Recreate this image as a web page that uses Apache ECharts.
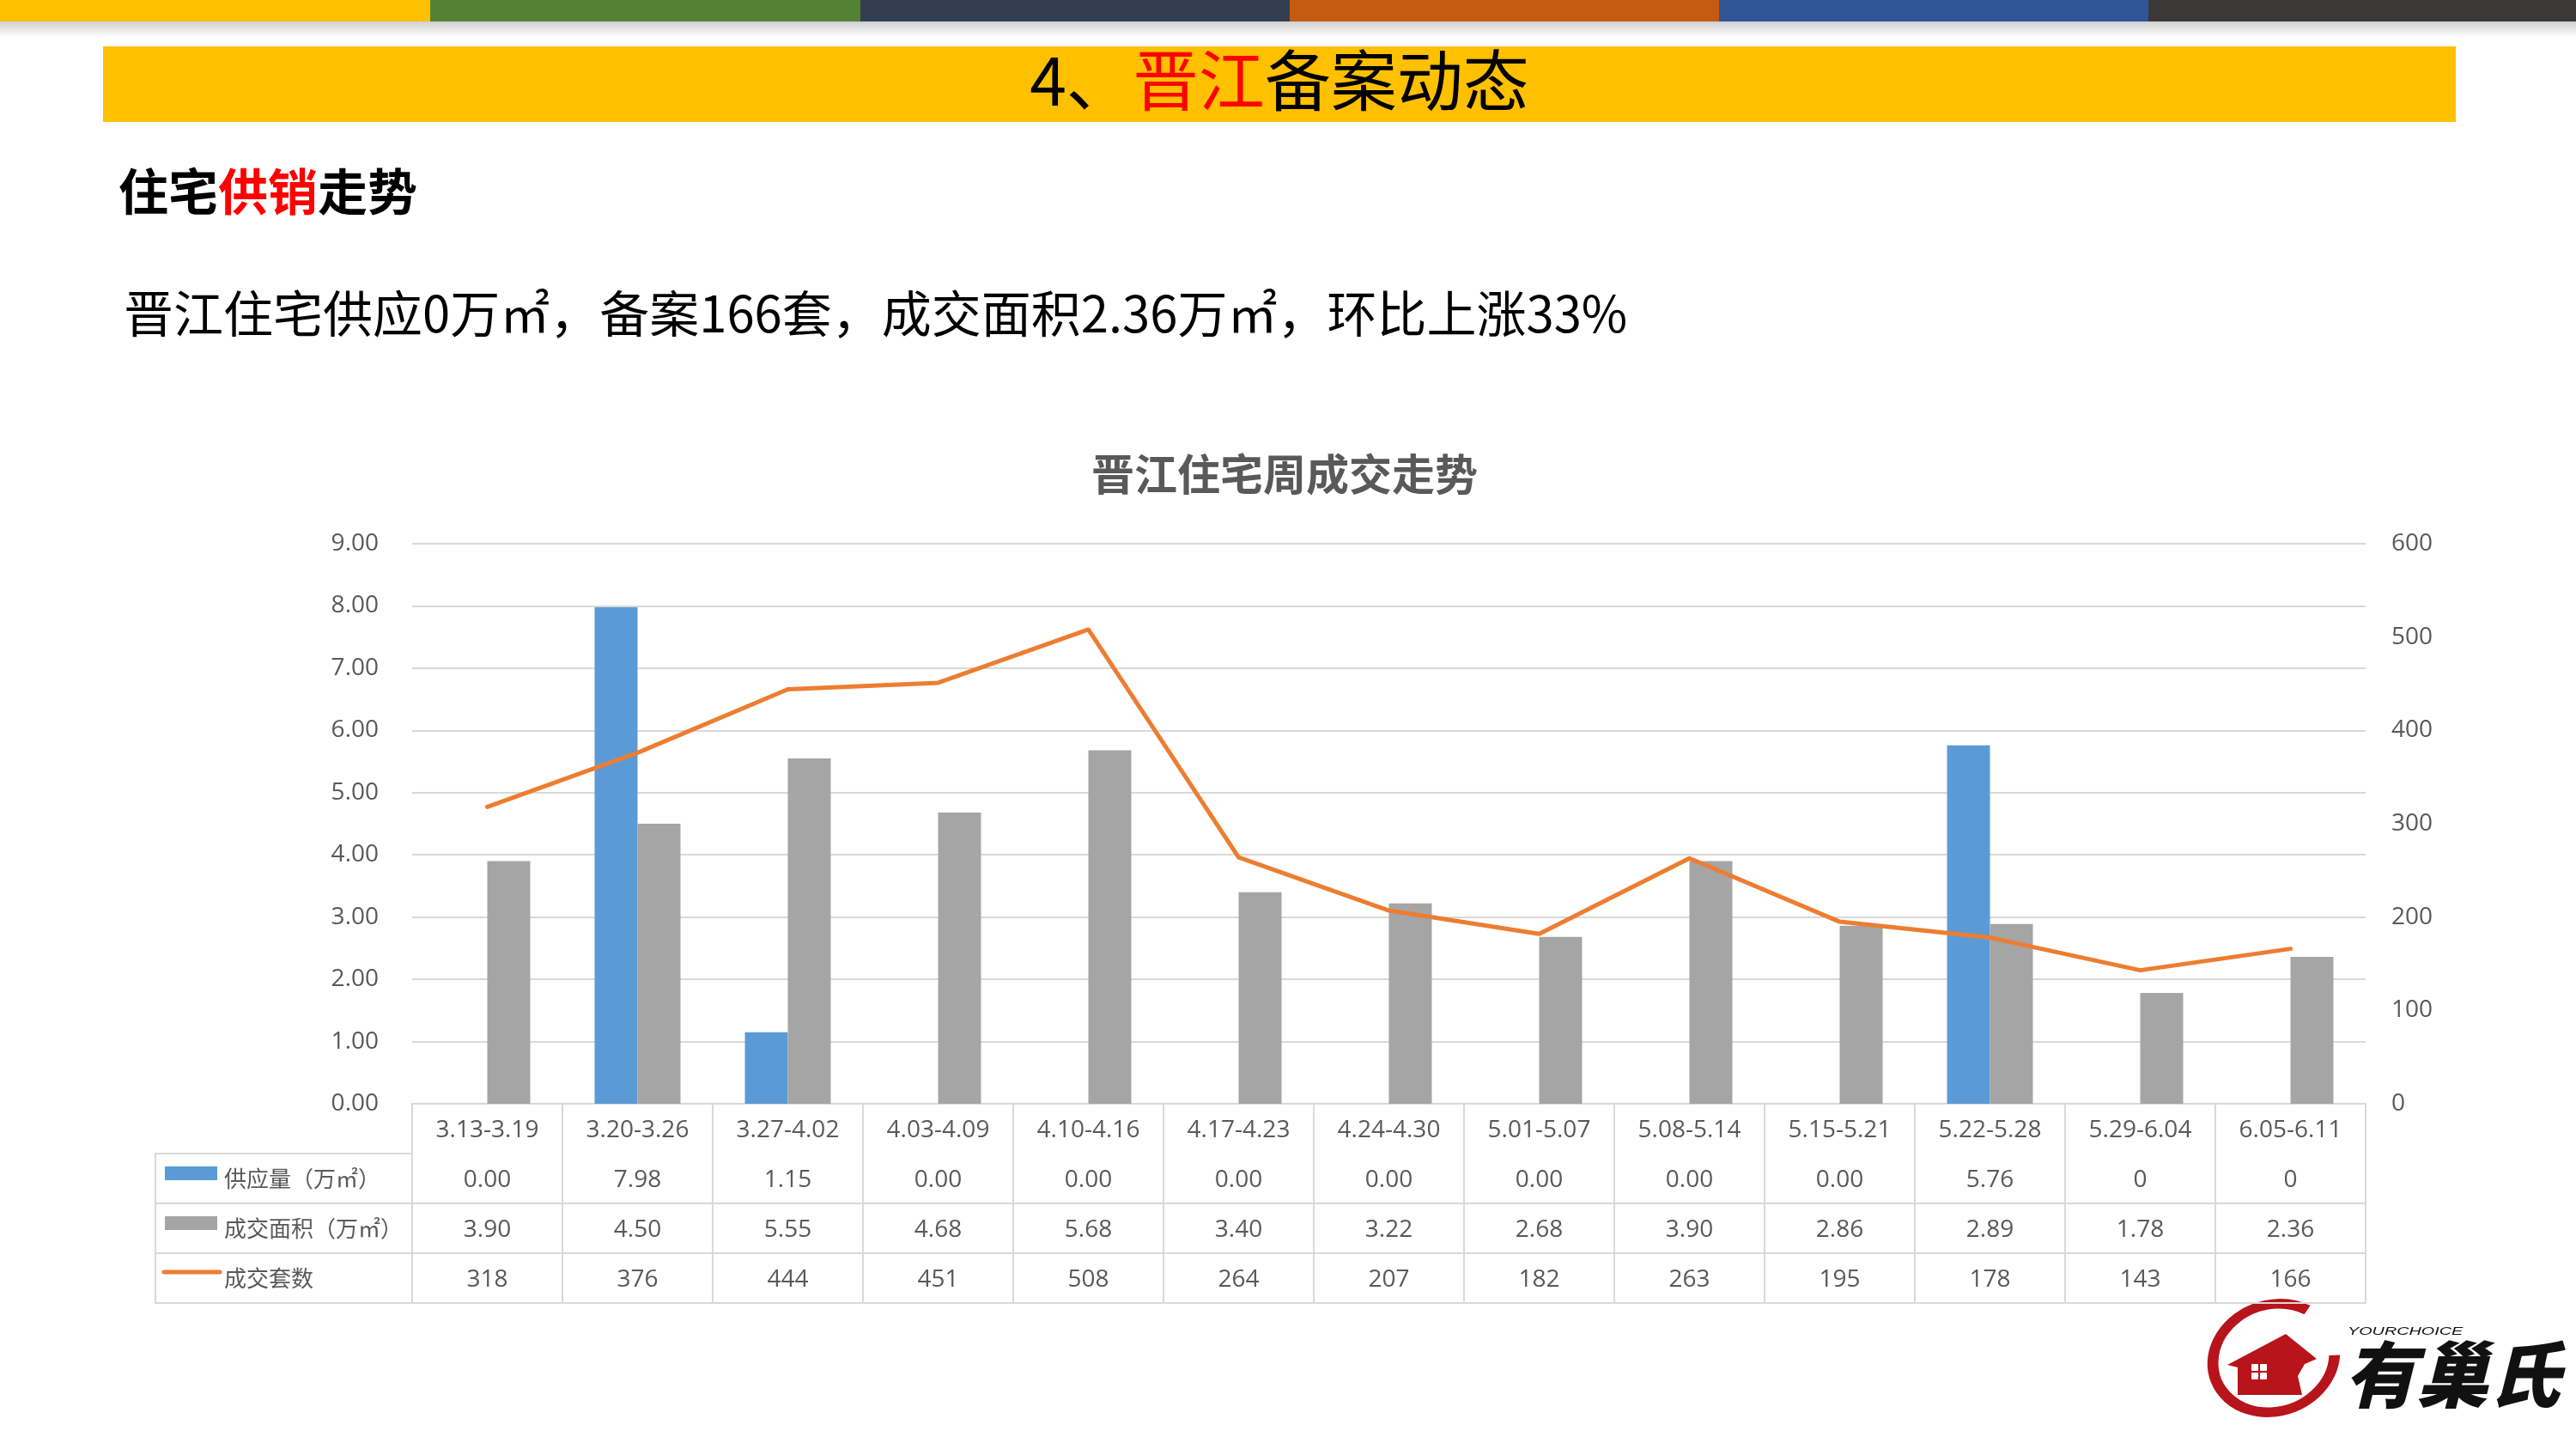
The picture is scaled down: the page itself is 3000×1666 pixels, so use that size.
<!DOCTYPE html>
<html>
<head>
<meta charset="utf-8">
<title>晋江备案动态</title>
<script src="https://cdn.jsdelivr.net/npm/echarts@6/dist/echarts.min.js"></script>
<style>
  html, body { margin: 0; padding: 0; background: #fff; }
  body { width: 3000px; height: 1666px; position: relative; overflow: hidden; font-family: "Noto Sans CJK SC", sans-serif; }
  .strip { position: absolute; top: 0; height: 25px; }
  .shade { position: absolute; top: 25px; left: 0; width: 3000px; height: 18px; background: linear-gradient(#cfcfcf, #ffffff); }
  .banner { position: absolute; left: 120px; top: 54px; width: 2740px; height: 88px; background: #FFC000;
            text-align: center; font-size: 77px; line-height: 72px; color: #000; }
  .red { color: #FF0000; }
  .sub { position: absolute; left: 138px; top: 186px; font-size: 58px; font-weight: bold; line-height: 68px; color: #000; }
  .lead { position: absolute; left: 144px; top: 328px; font-size: 58px; line-height: 68px; color: #000; white-space: nowrap; }
  #chart { position: absolute; left: 0; top: 0; width: 3000px; height: 1666px; }
</style>
</head>
<body>
<div class="strip" style="left:0;width:501px;background:#FFC000"></div>
<div class="strip" style="left:501px;width:501px;background:#548235"></div>
<div class="strip" style="left:1002px;width:500px;background:#333F50"></div>
<div class="strip" style="left:1502px;width:500px;background:#C55A11"></div>
<div class="strip" style="left:2002px;width:500px;background:#2F5597"></div>
<div class="strip" style="left:2502px;width:498px;background:#3B3838"></div>
<div class="shade"></div>
<div class="banner">4、<span class="red">晋江</span>备案动态</div>
<div class="sub">住宅<span class="red">供销</span>走势</div>
<div class="lead">晋江住宅供应0万㎡，备案166套，成交面积2.36万㎡，环比上涨33%</div>
<div id="chart"></div>
<script>
// weekly categories
var weeks = ['3.13-3.19', '3.20-3.26', '3.27-4.02', '4.03-4.09', '4.10-4.16', '4.17-4.23', '4.24-4.30',
  '5.01-5.07', '5.08-5.14', '5.15-5.21', '5.22-5.28', '5.29-6.04', '6.05-6.11'];
// values as printed in the data table
var supplyRow = ['0.00', '7.98', '1.15', '0.00', '0.00', '0.00', '0.00', '0.00', '0.00', '0.00', '5.76', '0', '0'];
var areaRow = ['3.90', '4.50', '5.55', '4.68', '5.68', '3.40', '3.22', '2.68', '3.90', '2.86', '2.89', '1.78', '2.36'];
var unitsRow = ['318', '376', '444', '451', '508', '264', '207', '182', '263', '195', '178', '143', '166'];
var seriesNames = ['供应量（万㎡）', '成交面积（万㎡）', '成交套数'];
var seriesColors = ['#5B9BD5', '#A5A5A5', '#ED7D31'];

var tableTop = 1285, rowH = 58, colLeft = 181, plotLeft = 480;
var gridCol = '#D9D9D9', textCol = '#595959';
var cjk = '"Noto Sans CJK SC", sans-serif';
var numFont = '"Open Sans", "Noto Sans CJK SC", sans-serif';

var chart = echarts.init(document.getElementById('chart'));

var graphics = [];
// left column of the data table
graphics.push({
  type: 'rect', silent: true,
  shape: { x: colLeft, y: tableTop + rowH, width: plotLeft - colLeft, height: rowH * 3 },
  style: { fill: 'none', stroke: gridCol, lineWidth: 2 }
});
[2, 3].forEach(function (k) {
  graphics.push({
    type: 'line', silent: true,
    shape: { x1: colLeft, y1: tableTop + rowH * k, x2: plotLeft, y2: tableTop + rowH * k },
    style: { stroke: gridCol, lineWidth: 2 }
  });
});
seriesNames.forEach(function (name, i) {
  var cy = tableTop + rowH * (i + 1) + rowH / 2;
  if (i < 2) {
    graphics.push({ type: 'rect', silent: true, shape: { x: 192, y: cy - 14, width: 61, height: 16 },
      style: { fill: seriesColors[i] } });
  } else {
    graphics.push({ type: 'line', silent: true, shape: { x1: 191, y1: cy - 7, x2: 256, y2: cy - 7 },
      style: { stroke: seriesColors[i], lineWidth: 5, lineCap: 'round' } });
  }
  graphics.push({ type: 'text', silent: true, x: 261, y: cy,
    style: { text: name, fill: textCol, fontSize: 26, fontFamily: cjk, verticalAlign: 'middle' } });
});

// logo
var logoRed = '#B8141B';
graphics.push({
  type: 'group', x: 2648, y: 1581, rotation: 0.35, scaleY: 0.86, silent: true,
  children: [{
    type: 'arc', shape: { cx: 0, cy: 0, r: 72, startAngle: 0.35, endAngle: 5.6 },
    style: { stroke: logoRed, lineWidth: 13, fill: 'none' }
  }]
});
graphics.push({
  type: 'polygon', silent: true,
  shape: { points: [[2594, 1589], [2662, 1553], [2698, 1582], [2684, 1588], [2676, 1602], [2681, 1624], [2606, 1624], [2606, 1592]] },
  style: { fill: logoRed }
});
[[2622, 1588], [2632, 1588], [2622, 1598], [2632, 1598]].forEach(function (p) {
  graphics.push({ type: 'rect', silent: true, shape: { x: p[0], y: p[1], width: 8, height: 8, r: 1 }, style: { fill: '#fff' } });
});
graphics.push({ type: 'text', silent: true, x: 2730, y: 1600,
  style: { text: '有巢氏', fill: '#111', fontSize: 84, fontWeight: 900, fontStyle: 'italic', fontFamily: cjk, verticalAlign: 'middle' } });
graphics.push({ type: 'group', x: 2734, y: 1551, scaleX: 1.65, silent: true,
  children: [{ type: 'text', style: { text: 'YOURCHOICE', fill: '#111', fontSize: 12, fontStyle: 'italic', fontFamily: 'Liberation Sans', verticalAlign: 'middle' } }] });

function tableAxis(rowData, k) {
  return {
    type: 'category', data: rowData, position: 'bottom', offset: rowH * k,
    axisLine: { show: true, lineStyle: { color: gridCol, width: 2 } },
    axisTick: { show: false },
    axisLabel: { show: rowData !== weeks, interval: 0, margin: 31, verticalAlign: 'middle', fontSize: 28, color: textCol, fontFamily: numFont }
  };
}

var option = {
  animation: false,
  title: {
    text: '晋江住宅周成交走势', left: 1266, top: 522,
    textStyle: { fontSize: 50, fontWeight: 'bold', color: textCol, fontFamily: cjk }
  },
  grid: { left: plotLeft, right: 245, top: 633, bottom: 1666 - tableTop },
  xAxis: [
    {
      type: 'category', data: weeks, position: 'bottom',
      axisLine: { show: true, lineStyle: { color: gridCol, width: 2 } },
      axisTick: { show: true, interval: 0, length: rowH * 4, lineStyle: { color: gridCol, width: 2 } },
      axisLabel: { interval: 0, margin: 31, verticalAlign: 'middle', fontSize: 28, color: textCol, fontFamily: numFont }
    },
    tableAxis(supplyRow, 1),
    tableAxis(areaRow, 2),
    tableAxis(unitsRow, 3),
    tableAxis(weeks, 4)
  ],
  yAxis: [
    {
      type: 'value', min: 0, max: 9, interval: 1,
      axisLine: { show: false }, axisTick: { show: false },
      splitLine: { lineStyle: { color: gridCol, width: 2 } },
      axisLabel: { margin: 39, fontSize: 28, color: textCol, fontFamily: 'Open Sans', formatter: function (v) { return v.toFixed(2); } }
    },
    {
      type: 'value', min: 0, max: 600, interval: 100, position: 'right',
      axisLine: { show: false }, axisTick: { show: false }, splitLine: { show: false },
      axisLabel: { margin: 30, fontSize: 28, color: textCol, fontFamily: 'Open Sans' }
    }
  ],
  series: [
    { name: seriesNames[0], type: 'bar', data: supplyRow.map(Number), barWidth: 50, barGap: '0%',
      itemStyle: { color: seriesColors[0] } },
    { name: seriesNames[1], type: 'bar', data: areaRow.map(Number), barWidth: 50, barGap: '0%',
      itemStyle: { color: seriesColors[1] } },
    { name: seriesNames[2], type: 'line', yAxisIndex: 1, data: unitsRow.map(Number), symbol: 'none', z: 5,
      lineStyle: { color: seriesColors[2], width: 5, cap: 'round', join: 'round' } }
  ],
  graphic: graphics
};

chart.setOption(option);
</script>
</body>
</html>
